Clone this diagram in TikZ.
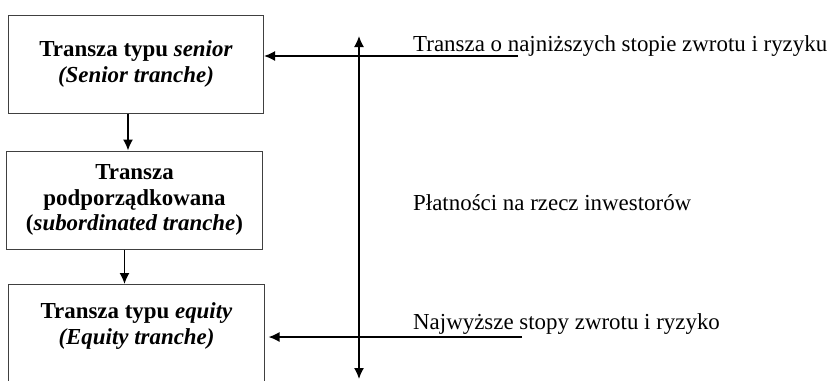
\documentclass[tikz,border=0pt]{standalone}
\usepackage{fontspec}
\setmainfont{Liberation Serif}
\usepackage{tikz}
\usetikzlibrary{arrows.meta,positioning}

\begin{document}
\begin{tikzpicture}[x=1bp,y=-1bp,>={Latex[length=11bp,width=10bp]},
  tranche/.style={draw=black!75,line width=1bp,minimum width=255bp,minimum height=98bp,
    align=center,font=\fontsize{23}{25.5}\selectfont\bfseries},
  flow/.style={->,line width=1.6bp},
  note/.style={anchor=base west,inner sep=0pt,font=\fontsize{23}{26}\selectfont}]
  \clip (0,0) rectangle (830,380);
  \node[tranche] (senior) at (136,64) {Transza typu \textit{senior}\\\textit{(Senior tranche)}};
  \node[tranche] (sub) at (134.5,200) {Transza\\podporządkowana\\(\textit{subordinated tranche})};
  \node[tranche,minimum height=120bp,anchor=north] (equity) at (136.5,284) {};
  \node[tranche,draw=none,minimum height=0pt,below=15bp of equity.north] (equitytxt)
    {Transza typu \textit{equity}\\\textit{(Equity tranche)}};
  \draw[flow] ([xshift=-8bp]senior.south) -- ([xshift=-8bp]senior.south |- sub.north);
  \draw[flow] ([xshift=-10bp]sub.south) -- ([xshift=-10bp]sub.south |- equity.north);
  % payments to investors
  \coordinate (top) at (359,36);
  \coordinate (bottom) at (359,379);
  \draw[flow,<->] (bottom) -- (top);
  \node[note] (low) at (413,51) {Transza o najniższych stopie zwrotu i ryzyku};
  \node[note] (pay) at (413,210) {Płatności na rzecz inwestorów};
  \node[note] (high) at (413,329) {Najwyższe stopy zwrotu i ryzyko};
  \coordinate (lowend) at (518,56);
  \coordinate (highend) at (522,337);
  \draw[flow] (lowend) -- (lowend -| senior.east);
  \draw[flow] (highend) -- ([xshift=4bp]highend -| equity.east);
\end{tikzpicture}
\end{document}
